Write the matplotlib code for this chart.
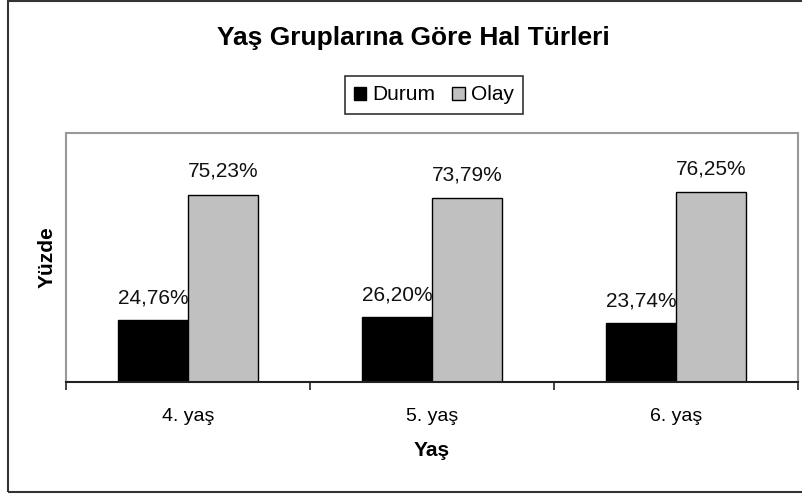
import matplotlib
matplotlib.use("Agg")
import matplotlib.pyplot as plt
import numpy as np
from matplotlib.patches import Rectangle, Patch

plt.rcParams['font.family'] = ['Liberation Sans', 'DejaVu Sans']

categories = ["4. yaş", "5. yaş", "6. yaş"]
durum = [24.76, 26.20, 23.74]
olay = [75.23, 73.79, 76.25]
durum_labels = ["24,76%", "26,20%", "23,74%"]
olay_labels = ["75,23%", "73,79%", "76,25%"]

W, H = 802, 497
fig = plt.figure(figsize=(W / 100, H / 100), dpi=100)
fig.patch.set_facecolor("white")

# outer frame
fig.patches.append(Rectangle((8 / W, 5 / H), 800 / W, 491 / H, transform=fig.transFigure,
                             fill=False, edgecolor="#333333", linewidth=1.5))

left, right, top, bottom = 66, 798, 133, 382
ax = fig.add_axes([left / W, 1 - bottom / H, (right - left) / W, (bottom - top) / H])

x = np.arange(len(categories))
bw = 0.287
ax.bar(x - bw / 2, durum, bw, color="black", edgecolor="black", linewidth=1, label="Durum")
ax.bar(x + bw / 2, olay, bw, color="#C0C0C0", edgecolor="black", linewidth=1, label="Olay")

for i in range(len(categories)):
    ax.text(x[i] - bw / 2, durum[i] + 5, durum_labels[i], ha="center", va="bottom", fontsize=15, color="#111111")
    ax.text(x[i] + bw / 2, olay[i] + 5.5, olay_labels[i], ha="center", va="bottom", fontsize=15, color="#111111")

ax.set_xlim(-0.5, 2.5)
ax.set_ylim(0, 100)
ax.set_yticks([])
ax.set_xticks([-0.5, 0.5, 1.5, 2.5])
ax.set_xticklabels([])
ax.set_xticks(x, minor=True)
ax.set_xticklabels(categories, minor=True, fontsize=14)
ax.tick_params(axis="x", which="major", direction="out", length=6, width=1.2, color="#222222")
ax.tick_params(axis="x", which="minor", length=0, pad=19)

for s in ["top", "right", "left"]:
    ax.spines[s].set_color("#999999")
    ax.spines[s].set_linewidth(1.5)
ax.spines["bottom"].set_color("#222222")
ax.spines["bottom"].set_linewidth(1.5)

ax.set_ylabel("Yüzde", fontsize=15, fontweight="bold", labelpad=7)
ax.set_xlabel("Yaş", fontsize=15, fontweight="bold", labelpad=11)

fig.text(413 / W, 1 - 38 / H, "Yaş Gruplarına Göre Hal Türleri", ha="center", va="center",
         fontsize=19, fontweight="bold")

handles = [Patch(facecolor="black", edgecolor="black"), Patch(facecolor="#C0C0C0", edgecolor="black")]
leg = fig.legend(handles, ["Durum", "Olay"], loc="center", bbox_to_anchor=(434 / W, 1 - 95 / H),
                 ncol=2, frameon=True, fontsize=15, handlelength=0.6, handleheight=0.6,
                 handletextpad=0.3, columnspacing=0.8, borderpad=0.45, fancybox=False)
leg.get_frame().set_edgecolor("black")
leg.get_frame().set_linewidth(1.2)

fig.savefig("out.png", dpi=100)
